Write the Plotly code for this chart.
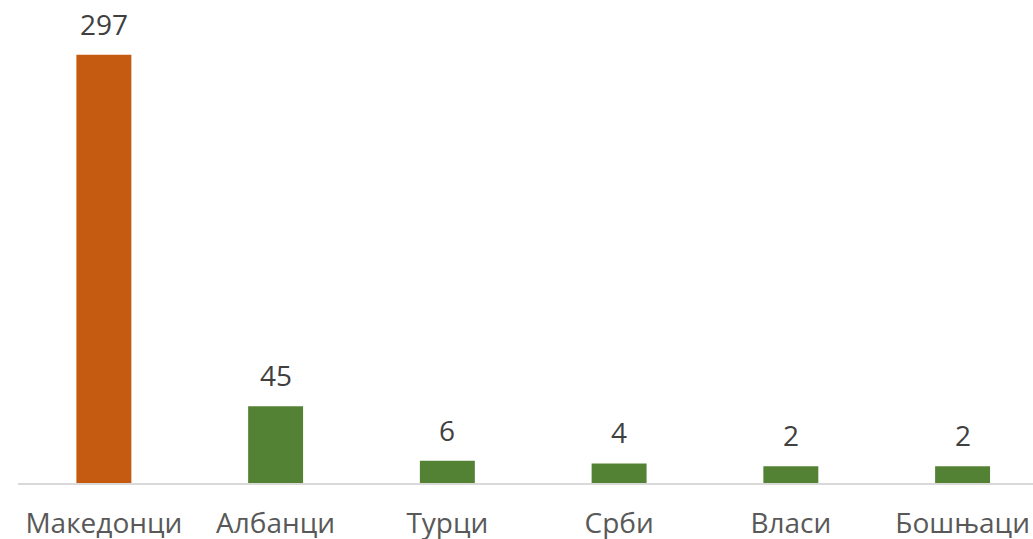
import plotly.graph_objects as go

categories = ["Македонци", "Албанци", "Турци", "Срби", "Власи", "Бошњаци"]
values = [297, 45, 6, 4, 2, 2]
colors = ["#C55A11", "#548235", "#548235", "#548235", "#548235", "#548235"]

axis_min = -10

fig = go.Figure()
fig.add_trace(go.Bar(
    x=categories,
    y=[v - axis_min for v in values],
    base=axis_min,
    marker=dict(color=colors, line=dict(width=0)),
    width=0.32,
    hoverinfo="skip",
))

for c, v in zip(categories, values):
    fig.add_annotation(
        x=c, y=v, text=str(v), showarrow=False, yanchor="bottom",
        yshift=10, font=dict(family="Open Sans", size=28, color="#404040"),
    )

fig.update_layout(
    width=1033, height=539,
    margin=dict(l=18, r=0, t=20, b=56, autoexpand=False),
    paper_bgcolor="white", plot_bgcolor="white",
    showlegend=False,
    xaxis=dict(
        range=[-0.5, 5.41],
        showline=True, linecolor="#D9D9D9", linewidth=2,
        showgrid=False, zeroline=False, ticks="",
        tickfont=dict(family="Open Sans", size=28, color="#595959"),
        ticklabelstandoff=14, automargin=False,
    ),
    yaxis=dict(
        range=[axis_min, 322],
        visible=False, showgrid=False, zeroline=False,
    ),
)

fig.write_html(
    "out.html",
    config={"displayModeBar": False},
    post_script="document.body.style.margin='0';document.body.style.overflow='hidden';",
)
